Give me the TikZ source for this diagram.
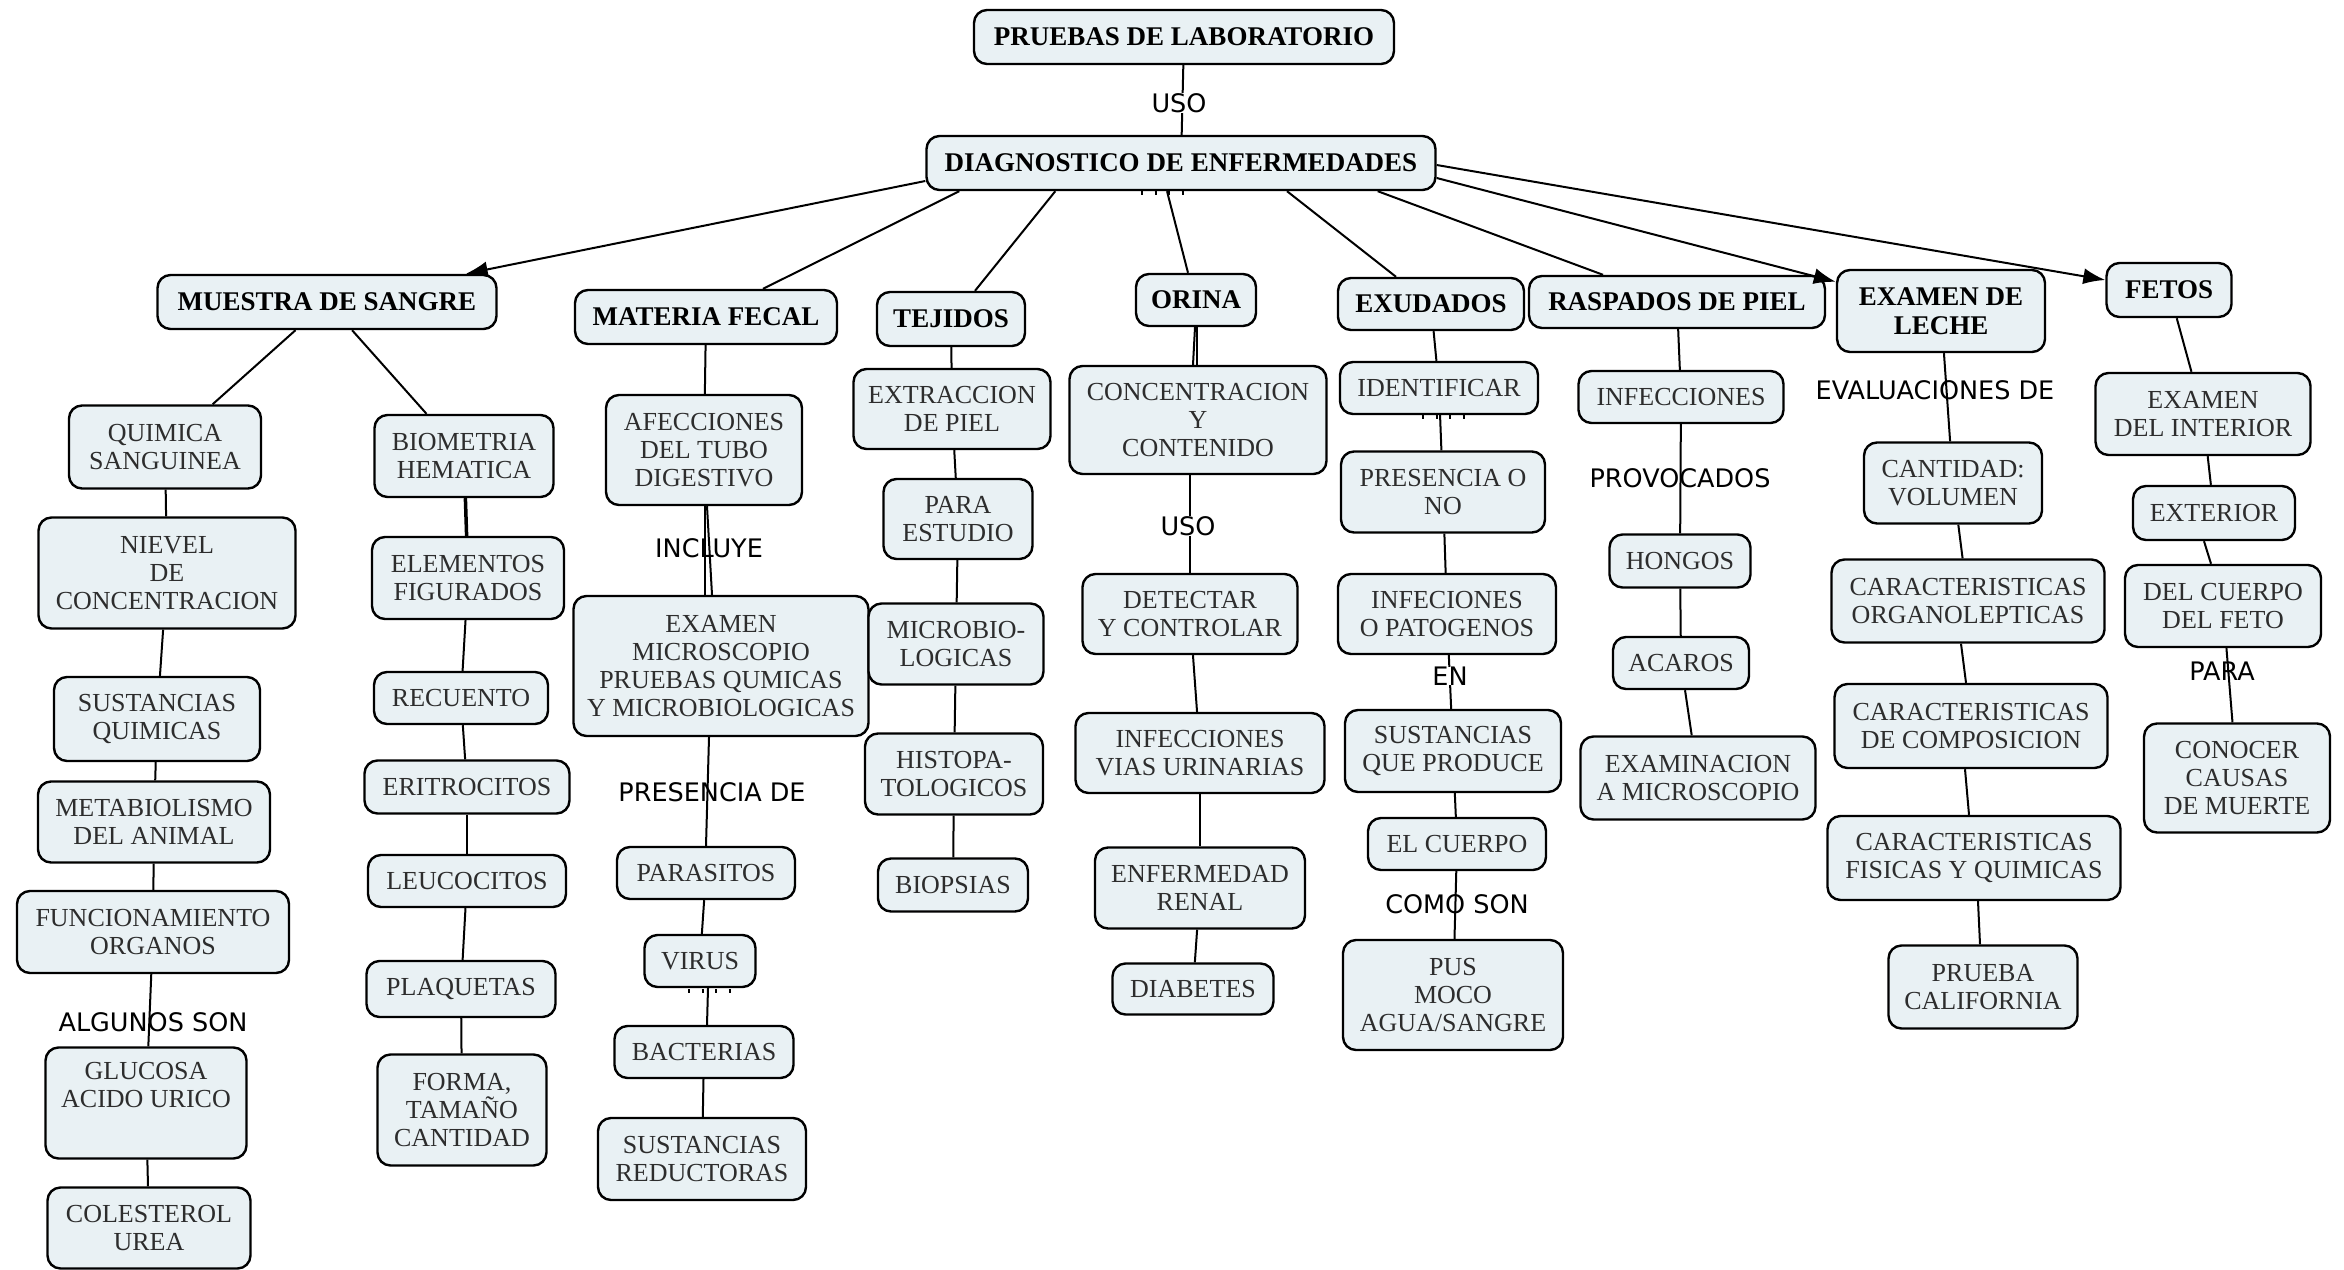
\documentclass[tikz,border=0pt]{standalone}
\usepackage{fontspec}
\setmainfont{Liberation Serif}
\newfontfamily\lblfont{DejaVu Sans}
\usetikzlibrary{calc,arrows.meta}
\definecolor{boxfill}{RGB}{233,241,244}
\definecolor{txtgray}{RGB}{45,45,45}
\tikzset{
  cbox/.style={draw=black, line width=2.4pt, rounded corners=13pt, fill=boxfill,
    align=center, inner xsep=4pt, inner ysep=2pt, text=txtgray,
    font=\fontsize{26}{28}\selectfont},
  hbox/.style={cbox, text=black, font=\fontsize{27}{29}\selectfont\bfseries},
  lbl/.style={font=\lblfont\fontsize{25.5}{27}\selectfont, inner sep=0pt, text=black},
  lblw/.style={lbl, fill=white},
  conn/.style={line width=2pt},
  arr/.style={conn, -{Latex[length=22pt,width=16pt]}},
  ticks/.style={line width=4pt, dash pattern=on 2pt off 11.5pt},
}
\newcommand\mybox[6]{\node[#1, minimum width=#4pt, minimum height=#5pt] (#2) at (#3) {#6};}
\begin{document}
\begin{tikzpicture}[x=1pt,y=-1pt]
\fill[white] (0,0) rectangle (2344,1269);
\useasboundingbox (0,0) rectangle (2344,1269);

% ---- headings ----
\mybox{hbox}{plab}{1184,37}{420}{54}{PRUEBAS DE LABORATORIO}
\mybox{hbox}{diag}{1181,163}{509}{54}{DIAGNOSTICO DE ENFERMEDADES}
\mybox{hbox}{ms}{327,302}{339}{54}{MUESTRA DE SANGRE}
\mybox{hbox}{mf}{706,317}{262}{54}{MATERIA FECAL}
\mybox{hbox}{tej}{951,319}{148}{54}{TEJIDOS}
\mybox{hbox}{ori}{1196,300}{120}{52}{ORINA}
\mybox{hbox}{exu}{1431,304}{186}{52}{EXUDADOS}
\mybox{hbox}{rasp}{1677,302}{296}{52}{RASPADOS DE PIEL}
\mybox{hbox}{lech}{1941,311}{208}{82}{EXAMEN DE\\LECHE}
\mybox{hbox}{fet}{2169,290}{125}{54}{FETOS}

% ---- column 1 ----
\mybox{cbox}{qs}{165,447}{192}{83}{QUIMICA\\SANGUINEA}
\mybox{cbox}{nc}{167,573}{257}{111}{NIEVEL\\DE\\CONCENTRACION}
\mybox{cbox}{sq}{157,719}{206}{84}{SUSTANCIAS\\QUIMICAS}
\mybox{cbox}{met}{154,822}{232}{81}{METABIOLISMO\\DEL ANIMAL}
\mybox{cbox}{fo}{153,932}{272}{82}{FUNCIONAMIENTO\\ORGANOS}
\mybox{cbox}{glu}{146,1103}{201}{111}{GLUCOSA\\ACIDO URICO\\\strut}
\mybox{cbox}{col}{149,1228}{203}{81}{COLESTEROL\\UREA}
% ---- column 2 ----
\mybox{cbox}{bh}{464,456}{179}{82}{BIOMETRIA\\HEMATICA}
\mybox{cbox}{ef}{468,578}{192}{82}{ELEMENTOS\\FIGURADOS}
\mybox{cbox}{rec}{461,698}{174}{52}{RECUENTO}
\mybox{cbox}{eri}{467,787}{205}{53}{ERITROCITOS}
\mybox{cbox}{leu}{467,881}{198}{52}{LEUCOCITOS}
\mybox{cbox}{plq}{461,989}{189}{56}{PLAQUETAS}
\mybox{cbox}{ftc}{462,1110}{169}{111}{FORMA,\\TAMAÑO\\CANTIDAD}
% ---- column 3 ----
\mybox{cbox}{afe}{704,450}{196}{110}{AFECCIONES\\DEL TUBO\\DIGESTIVO}
\mybox{cbox}{emx}{721,666}{295}{140}{EXAMEN\\MICROSCOPIO\\PRUEBAS QUMICAS\\Y MICROBIOLOGICAS}
\mybox{cbox}{par}{706,873}{178}{52}{PARASITOS}
\mybox{cbox}{vir}{700,961}{111}{52}{VIRUS}
\mybox{cbox}{bac}{704,1052}{179}{52}{BACTERIAS}
\mybox{cbox}{sred}{702,1159}{208}{82}{SUSTANCIAS\\REDUCTORAS}
% ---- column 4 ----
\mybox{cbox}{ext}{952,409}{197}{80}{EXTRACCION\\DE PIEL}
\mybox{cbox}{pes}{958,519}{149}{80}{PARA\\ESTUDIO}
\mybox{cbox}{mic}{956,644}{175}{81}{MICROBIO-\\LOGICAS}
\mybox{cbox}{his}{954,774}{178}{81}{HISTOPA-\\TOLOGICOS}
\mybox{cbox}{bio}{953,885}{150}{53}{BIOPSIAS}
% ---- column 5 ----
\mybox{cbox}{cyc}{1198,420}{257}{108}{CONCENTRACION\\Y\\CONTENIDO}
\mybox{cbox}{dyc}{1190,614}{215}{80}{DETECTAR\\Y CONTROLAR}
\mybox{cbox}{ivu}{1200,753}{249}{80}{INFECCIONES\\VIAS URINARIAS}
\mybox{cbox}{er}{1200,888}{210}{81}{ENFERMEDAD\\RENAL}
\mybox{cbox}{dia}{1193,989}{161}{51}{DIABETES}
% ---- column 6 ----
\mybox{cbox}{idf}{1439,388}{198}{52}{IDENTIFICAR}
\mybox{cbox}{pon}{1443,492}{204}{81}{PRESENCIA O\\NO}
\mybox{cbox}{iop}{1447,614}{218}{80}{INFECIONES\\O PATOGENOS}
\mybox{cbox}{sqp}{1453,751}{216}{82}{SUSTANCIAS\\QUE PRODUCE}
\mybox{cbox}{elc}{1457,844}{178}{52}{EL CUERPO}
\mybox{cbox}{pus}{1453,995}{220}{110}{PUS\\MOCO\\AGUA/SANGRE}
% ---- column 7 ----
\mybox{cbox}{inf}{1681,397}{205}{52}{INFECCIONES}
\mybox{cbox}{hon}{1680,561}{141}{53}{HONGOS}
\mybox{cbox}{aca}{1681,663}{136}{52}{ACAROS}
\mybox{cbox}{exm}{1698,778}{235}{83}{EXAMINACION\\A MICROSCOPIO}
% ---- column 8 ----
\mybox{cbox}{cv}{1953,483}{178}{81}{CANTIDAD:\\VOLUMEN}
\mybox{cbox}{co}{1968,601}{273}{83}{CARACTERISTICAS\\ORGANOLEPTICAS}
\mybox{cbox}{cc}{1971,726}{273}{84}{CARACTERISTICAS\\DE COMPOSICION}
\mybox{cbox}{cf}{1974,858}{293}{84}{CARACTERISTICAS\\FISICAS Y QUIMICAS}
\mybox{cbox}{pc}{1983,987}{189}{83}{PRUEBA\\CALIFORNIA}
% ---- column 9 ----
\mybox{cbox}{edi}{2203,414}{215}{82}{EXAMEN\\DEL INTERIOR}
\mybox{cbox}{exr}{2214,513}{162}{54}{EXTERIOR}
\mybox{cbox}{dcf}{2223,606}{196}{82}{DEL CUERPO\\DEL FETO}
\mybox{cbox}{ccm}{2237,778}{186}{109}{CONOCER\\CAUSAS\\DE MUERTE}

% ---- connectors ----
\draw[conn] (plab) -- (diag);
\draw[arr] ($(diag.west)+(0,18)$) -- ($(ms.north east)+(-32,0)$);
\draw[conn] ($(diag.south west)+(34,0)$) -- ($(mf.north)+(57,0)$);
\draw[conn] ($(diag.south west)+(130,0)$) -- ($(tej.north)+(24,0)$);
\draw[conn] ($(diag.south)+(-14,0)$) -- ($(ori.north)+(-8,0)$);
\draw[conn] ($(diag.south)+(106,0)$) -- ($(exu.north)+(-35,0)$);
\draw[conn] ($(diag.south east)+(-59,0)$) -- ($(rasp.north)+(-74,0)$);
\draw[arr] ($(diag.east)+(0,15)$) -- ($(lech.north west)+(0,13)$);
\draw[arr] ($(diag.east)+(0,2)$) -- ($(fet.west)+(0,-10)$);

% sangre
\draw[conn] (ms) -- (qs);
\draw[conn] (ms) -- (bh);
\draw[conn] (qs) -- (nc);
\draw[conn] (nc) -- (sq);
\draw[conn] (sq) -- (met);
\draw[conn] (met) -- (fo);
\draw[conn] (fo) -- (glu);
\draw[conn] (glu) -- (col);
\draw[conn, line width=3.5pt] (bh) -- (ef);
\draw[conn] (ef) -- (rec);
\draw[conn] (rec) -- (eri);
\draw[conn] (eri) -- (leu);
\draw[conn] (leu) -- (plq);
\draw[conn] (plq) -- (ftc);
% materia fecal
\draw[conn] (mf) -- (afe);
\draw[conn] ($(afe.south)+(1,0)$) -- ($(emx.north)+(-16,0)$);
\draw[conn] ($(afe.south)+(3,0)$) -- ($(emx.north)+(-9,0)$);
\draw[conn] ($(emx.south)+(-12,0)$) -- (par.north);
\draw[conn] (par) -- (vir);
\draw[conn] ($(vir.south)+(8,0)$) -- ($(bac.north)+(3,0)$);
\draw[conn] (bac) -- (sred);
% tejidos
\draw[conn] (tej) -- (ext);
\draw[conn] (ext) -- (pes);
\draw[conn] (pes) -- (mic);
\draw[conn] (mic) -- (his);
\draw[conn] (his) -- (bio);
% orina
\draw[conn] ($(ori.south)+(-1,0)$) -- ($(cyc.north)+(-5,0)$);
\draw[conn] ($(ori.south)+(1,0)$) -- ($(cyc.north)+(-1,0)$);
\draw[conn] ($(cyc.south)+(-8,0)$) -- (dyc.north);
\draw[conn] (dyc) -- (ivu);
\draw[conn] (ivu) -- (er);
\draw[conn] (er) -- (dia);
% exudados
\draw[conn] (exu) -- (idf);
\draw[conn] (idf) -- (pon);
\draw[conn] (pon) -- (iop);
\draw[conn] (iop) -- (sqp);
\draw[conn] (sqp) -- (elc);
\draw[conn] (elc) -- (pus);
% raspados
\draw[conn] (rasp) -- (inf);
\draw[conn] (inf) -- (hon);
\draw[conn] (hon) -- (aca);
\draw[conn] (aca) -- (exm);
% leche
\draw[conn] (lech) -- (cv);
\draw[conn] (cv) -- (co);
\draw[conn] ($(co.south)+(-7,0)$) -- ($(cc.north)+(-5,0)$);
\draw[conn] ($(cc.south)+(-6,0)$) -- ($(cf.north)+(-5,0)$);
\draw[conn] ($(cf.south)+(4,0)$) -- ($(pc.north)+(-3,0)$);
% fetos
\draw[conn] (fet) -- (edi);
\draw[conn] (edi) -- (exr);
\draw[conn] ($(exr.south)+(-10,0)$) -- ($(dcf.north)+(-12,0)$);
\draw[conn] (dcf) -- (ccm);

% small tick marks
\draw[ticks] ($(diag.south)+(-40,2)$) -- ($(diag.south)+(5,2)$);
\draw[ticks] ($(idf.south)+(-17,2)$) -- ($(idf.south)+(27,2)$);
\draw[ticks] ($(vir.south)+(-12,3)$) -- ($(vir.south)+(32,3)$);

% ---- link labels ----
\node[lblw] (l1) at (1179,103) {USO};
\node[lbl] (l2) at (153,1022) {ALGUNOS SON};
\node[lbl] (l3) at (709,548) {INCLUYE};
\node[lbl] (l4) at (712,792) {PRESENCIA DE};
\node[lblw] (l5) at (1188,526) {USO};
\node[lblw] (l6) at (1450,676) {EN};
\node[lbl] (l7) at (1457,904) {COMO SON};
\node[lbl] (l8) at (1680,478) {PROVOCADOS};
\node[lbl] (l9) at (1935,390) {EVALUACIONES DE};
\node[lbl] (l10) at (2222,671) {PARA};
\end{tikzpicture}
\end{document}
